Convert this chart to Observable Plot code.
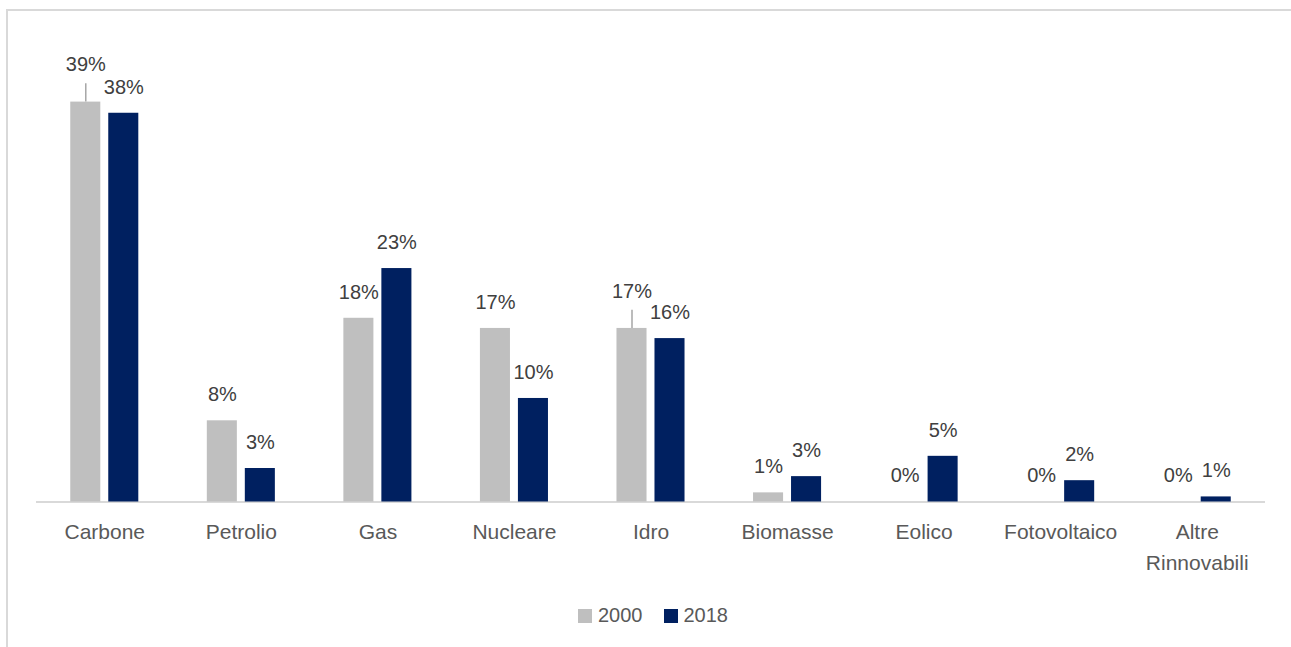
<!DOCTYPE html>
<html>
<head>
<meta charset="utf-8">
<script src="https://cdn.jsdelivr.net/npm/d3@7"></script>
<script src="https://cdn.jsdelivr.net/npm/@observablehq/plot@0.6"></script>
<style>
  html, body { margin: 0; padding: 0; background: #fff; }
  body { font-family: "Liberation Sans", Arial, sans-serif; width: 1291px; height: 647px; position: relative; overflow: hidden; }
  #frame { position: absolute; left: 6px; top: 9px; width: 1400px; height: 800px; border-top: 2px solid #D9D9D9; border-left: 2px solid #D9D9D9; }
  #chart { position: absolute; left: 0; top: 0; }
  #legend { position: absolute; top: 604px; left: 578px; display: flex; align-items: center; font-size: 20px; color: #595959; }
  #legend .sw { width: 14px; height: 14px; display: inline-block; margin-right: 6px; }
  #legend .item { display: flex; align-items: center; margin-right: 21px; }
</style>
</head>
<body>
<div id="frame"></div>
<div id="chart"></div>
<div id="legend"></div>
<script>
const categories = ["Carbone", "Petrolio", "Gas", "Nucleare", "Idro", "Biomasse", "Eolico", "Fotovoltaico", "Altre Rinnovabili"];
const years = ["2000", "2018"];
const values2000 = [39.4, 8.0, 18.1, 17.1, 17.1, 0.9, 0, 0, 0];
const values2018 = [38.3, 3.3, 23.0, 10.2, 16.1, 2.5, 4.5, 2.1, 0.5];
const colors = ["#BFBFBF", "#002060"];

const rows2000 = categories.map((c, i) => ({category: c, year: "2000", value: values2000[i]}));
const rows2018 = categories.map((c, i) => ({category: c, year: "2018", value: values2018[i]}));
// labels that Excel moved up with a leader line
const raised = ["Carbone", "Idro"];
const fmt = d => Math.round(d.value) + "%";

const textStyle = {fontSize: 20, fill: "#404040", fontFamily: "Liberation Sans, Arial, sans-serif", lineAnchor: "middle"};

const chart = Plot.plot({
  width: 1291,
  height: 590,
  marginLeft: 36,
  marginRight: 26,
  marginTop: 95.5,
  marginBottom: 88.5,
  style: {fontFamily: "Liberation Sans, Arial, sans-serif", background: "transparent", overflow: "visible"},
  x: {domain: categories, paddingInner: 0.78, paddingOuter: 0.39, round: false, label: null},
  y: {domain: [0, 40], axis: null},
  marks: [
    Plot.ruleY([0], {stroke: "#D9D9D9", strokeWidth: 2}),
    Plot.barY(rows2000, {x: "category", y: "value", fill: colors[0], dx: -19}),
    Plot.barY(rows2018, {x: "category", y: "value", fill: colors[1], dx: 19}),
    Plot.ruleX(rows2000.filter(d => raised.includes(d.category)), {x: "category", y1: "value", y2: d => d.value + 1.8, dx: -19, stroke: "#A6A6A6", strokeWidth: 1.5}),
    Plot.text(rows2000.filter(d => !raised.includes(d.category)), {x: "category", y: "value", text: fmt, dx: -19, dy: -26, ...textStyle}),
    Plot.text(rows2000.filter(d => raised.includes(d.category)), {x: "category", y: "value", text: fmt, dx: -19, dy: -37, ...textStyle}),
    Plot.text(rows2018, {x: "category", y: "value", text: fmt, dx: 19, dy: -26, ...textStyle}),
    Plot.axisX({tickSize: 0, tickPadding: 15, fontSize: 21, fill: "#595959", lineHeight: 1.48, label: null, tickFormat: d => d.replace(" ", "\n")})
  ]
});
document.getElementById("chart").appendChild(chart);

const legend = document.getElementById("legend");
years.forEach((y, i) => {
  const item = document.createElement("div");
  item.className = "item";
  const sw = document.createElement("span");
  sw.className = "sw";
  sw.style.background = colors[i];
  const t = document.createElement("span");
  t.textContent = y;
  item.appendChild(sw);
  item.appendChild(t);
  legend.appendChild(item);
});
</script>
</body>
</html>
